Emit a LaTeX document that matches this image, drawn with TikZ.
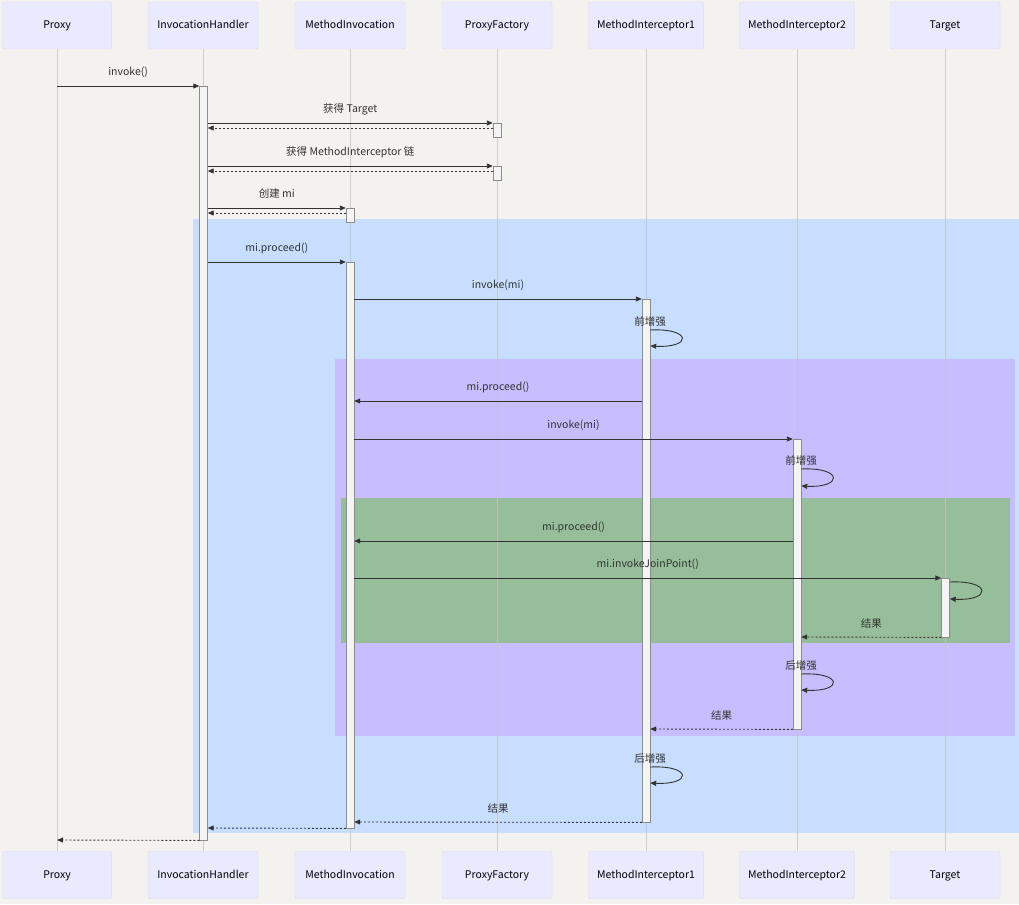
\documentclass[tikz,border=0pt]{standalone}
\usepackage{fontspec}
\newfontfamily\cjk{Noto Sans CJK SC}
\usetikzlibrary{arrows.meta}
\definecolor{paper}{HTML}{F3F2EE}
\definecolor{actorfill}{HTML}{EAEAFF}
\definecolor{actorline}{HTML}{DCD5F5}
\definecolor{lifegray}{HTML}{C4C4C4}
\definecolor{actfill}{HTML}{F4F4F4}
\definecolor{actgray}{HTML}{8C8C8C}
\definecolor{msgline}{HTML}{333333}
\definecolor{loopblue}{HTML}{C8DEFF}
\definecolor{looppurple}{HTML}{C8BEFF}
\definecolor{loopgreen}{HTML}{97BE9A}

\begin{document}
\begin{tikzpicture}[x=1pt,y=-1pt,
  txt/.style={font=\cjk\fontsize{10.5}{12}\selectfont, text=msgline},
  actor/.style={txt, text=black, rectangle, rounded corners=2pt, draw=actorline, fill=actorfill, minimum height=47pt, text height=8pt, text depth=2pt},
  life/.style={draw=lifegray, line width=1pt, opacity=0.8},
  act/.style={rectangle, draw=actgray, fill=actfill, minimum width=8pt, inner sep=0pt, anchor=north},
  msg/.style={draw=msgline, line width=0.9pt, -{Triangle[length=6pt,width=5pt]}},
  reply/.style={msg, dash pattern=on 2pt off 2pt},
  lbl/.style={txt, midway, yshift=14pt},
  loopl/.style={txt, yshift=8.5pt}]
  \useasboundingbox[fill=paper] (0,0) rectangle (1019,904);

  % loop areas
  \fill[loopblue] (193,219) rectangle (1019,833);
  \fill[looppurple] (335,359) rectangle (1015,736);
  \fill[loopgreen] (341,498) rectangle (1010,643);

  % participants and lifelines
  \foreach \n/\t/\x/\w in {proxy/Proxy/57/109, ih/InvocationHandler/203/110, mi/MethodInvocation/350/110, pf/ProxyFactory/497/110, mia/MethodInterceptor1/646/115, mib/MethodInterceptor2/797/115, tg/Target/945/110}{
    \node[actor, minimum width=\w pt] (\n T) at (\x,25.5) {\t};
    \node[actor, minimum width=\w pt] (\n B) at (\x,875) {\t};
    \draw[life] (\n T.south) -- (\n B.north);
  }

  % activations
  \node[act, minimum height=754pt] (aIH) at (203.5,86) {};
  \node[act, minimum height=14pt] (aPF1) at (497,123) {};
  \node[act, minimum height=14pt] (aPF2) at (497,166) {};
  \node[act, minimum height=14pt] (aMI0) at (350,208) {};
  \node[act, minimum height=566pt] (aMI) at (350,262) {};
  \node[act, minimum height=523pt] (aM1) at (646,299) {};
  \node[act, minimum height=290pt] (aM2) at (797,439) {};
  \node[act, minimum height=59pt] (aT) at (945.5,578) {};

  % messages
  \draw[msg] (proxyT |- 0,86) -- node[lbl] {invoke()} (aIH.north west);
  \draw[msg] (aIH.east |- 0,123) -- node[lbl] {获得 Target} (aPF1.north west);
  \draw[reply] (aPF1.west |- 0,128) -- (aIH.east |- 0,128);
  \draw[msg] (aIH.east |- 0,166) -- node[lbl] {获得 MethodInterceptor 链} (aPF2.north west);
  \draw[reply] (aPF2.west |- 0,171) -- (aIH.east |- 0,171);
  \draw[msg] (aIH.east |- 0,208) -- node[lbl] {创建 mi} (aMI0.north west);
  \draw[reply] (aMI0.west |- 0,213) -- (aIH.east |- 0,213);
  \draw[msg] (aIH.east |- 0,262) -- node[lbl] {mi.proceed()} (aMI.north west);
  \draw[msg] (aMI.east |- 0,299) -- node[lbl] {invoke(mi)} (aM1.north west);
  \draw[msg] (aM1.east |- 0,330) node[loopl] {前增强} .. controls +(42,-2) and +(42,2) .. (aM1.east |- 0,346);
  \draw[msg] (aM1.west |- 0,401) -- node[lbl] {mi.proceed()} (aMI.east |- 0,401);
  \draw[msg] (aMI.east |- 0,439) -- node[lbl] {invoke(mi)} (aM2.north west);
  \draw[msg] (aM2.east |- 0,469) node[loopl] {前增强} .. controls +(42,-2) and +(42,2) .. (aM2.east |- 0,486);
  \draw[msg] (aM2.west |- 0,541) -- node[lbl] {mi.proceed()} (aMI.east |- 0,541);
  \draw[msg] (aMI.east |- 0,578) -- node[lbl] {mi.invokeJoinPoint()} (aT.north west);
  \draw[msg] (aT.east |- 0,582) .. controls +(42,-2) and +(42,2) .. (aT.east |- 0,599);
  \draw[reply] (aT.south west) -- node[lbl] {结果} (aM2.east |- 0,637);
  \draw[msg] (aM2.east |- 0,674) node[loopl] {后增强} .. controls +(42,-2) and +(42,2) .. (aM2.east |- 0,690);
  \draw[reply] (aM2.south west) -- node[lbl] {结果} (aM1.east |- 0,729);
  \draw[msg] (aM1.east |- 0,767) node[loopl] {后增强} .. controls +(42,-2) and +(42,2) .. (aM1.east |- 0,783);
  \draw[reply] (aM1.south west) -- node[lbl] {结果} (aMI.east |- 0,822);
  \draw[reply] (aMI.south west) -- (aIH.east |- 0,828);
  \draw[reply] (aIH.south west) -- (proxyB |- 0,840);
\end{tikzpicture}
\end{document}
